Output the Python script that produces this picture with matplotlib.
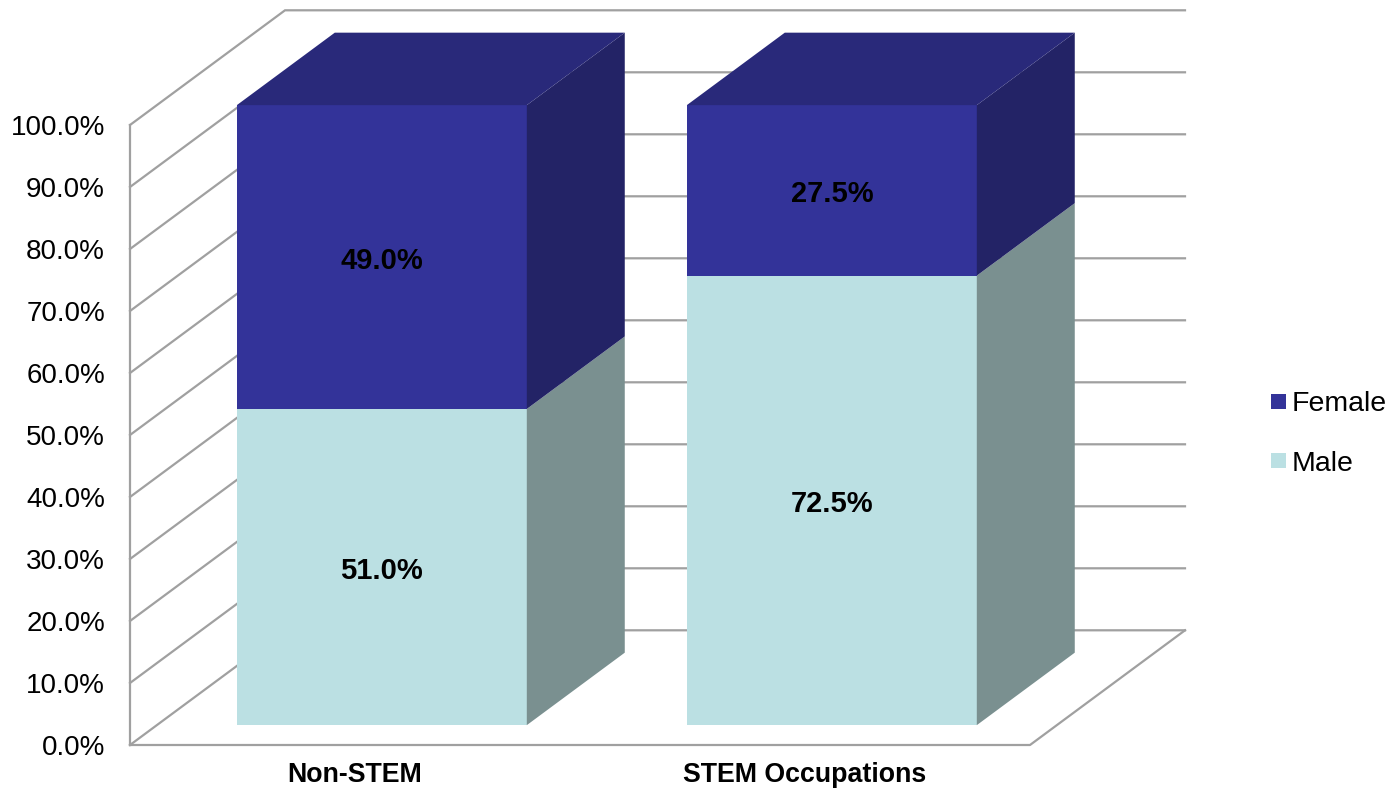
import matplotlib
matplotlib.use("Agg")
import matplotlib.pyplot as plt
from matplotlib.patches import Polygon, Patch

plt.rcParams['font.family'] = ['Liberation Sans', 'DejaVu Sans']

categories = ["Non-STEM", "STEM Occupations"]
male = [51.0, 72.5]
female = [49.0, 27.5]
series_names = ["Female", "Male"]
yticks = [0, 10, 20, 30, 40, 50, 60, 70, 80, 90, 100]

# colours
female_front = "#333399"
female_top = "#29297A"
female_side = "#232366"
male_front = "#BBE0E3"
male_side = "#7A9090"
grid_color = "#A0A0A0"

W, H = 1392, 793
fig = plt.figure(figsize=(W / 100, H / 100), dpi=100)
ax_left, ax_right, ax_bottom, ax_top = 130, 1185, 745, 8
ax = fig.add_axes([ax_left / W, (H - ax_bottom) / H,
                   (ax_right - ax_left) / W, (ax_bottom - ax_top) / H])

px_per_unit_x = 450.0
px_per_unit_y = 6.2
xmin = -0.5
xmax = xmin + (ax_right - ax_left) / px_per_unit_x
ymax = (ax_bottom - ax_top) / px_per_unit_y
ax.set_xlim(xmin, xmax)
ax.set_ylim(0, ymax)

# depth offsets (data units)
Dx = 155 / px_per_unit_x
Dy = 18.5
f0, f1 = 0.173, 0.805
hw = 0.3222

# gridlines / walls
for v in yticks:
    ax.plot([xmin, xmin + Dx, xmax], [v, v + Dy, v + Dy], color=grid_color,
            lw=1.6, zorder=1, clip_on=False, solid_joinstyle='miter')
ax.plot([xmin, xmin], [0, yticks[-1]], color=grid_color, lw=1.6, zorder=1, clip_on=False)
nfloor = len(categories)
ax.plot([xmin, xmin + nfloor, xmin + nfloor + Dx], [0, 0, Dy], color=grid_color,
        lw=1.6, zorder=1, clip_on=False)


def box(c, y0, y1, front, side, top=None):
    xl = c - hw + f0 * Dx
    xr = c + hw + f0 * Dx
    yo = f0 * Dy
    ddx = (f1 - f0) * Dx
    ddy = (f1 - f0) * Dy
    ax.add_patch(Polygon([(xl, y0 + yo), (xr, y0 + yo), (xr, y1 + yo), (xl, y1 + yo)],
                         closed=True, facecolor=front, edgecolor='none', zorder=3, clip_on=False))
    ax.add_patch(Polygon([(xr, y0 + yo), (xr + ddx, y0 + yo + ddy), (xr + ddx, y1 + yo + ddy),
                          (xr, y1 + yo)],
                         closed=True, facecolor=side, edgecolor='none', zorder=3, clip_on=False))
    if top is not None:
        ax.add_patch(Polygon([(xl, y1 + yo), (xr, y1 + yo), (xr + ddx, y1 + yo + ddy),
                              (xl + ddx, y1 + yo + ddy)],
                             closed=True, facecolor=top, edgecolor='none', zorder=3, clip_on=False))
    return (xl + xr) / 2, yo


for i, cat in enumerate(categories):
    m, f = male[i], female[i]
    cx, yo = box(i, 0, m, male_front, male_side)
    box(i, m, m + f, female_front, female_side, female_top)
    for val, ymid in ((m, yo + m / 2), (f, yo + m + f / 2)):
        ax.annotate(f"{val:.1f}%", xy=(cx, ymid), xytext=(0, -4), textcoords='offset pixels',
                    ha='center', va='center', fontsize=21, fontweight='bold',
                    color='black', zorder=5)

ax.set_yticks(yticks)
ax.set_yticklabels([f"{v:.1f}%" for v in yticks], fontsize=20)
ax.set_xticks(range(len(categories)))
ax.set_xticklabels(categories, fontsize=19.3, fontweight='bold')
ax.tick_params(axis='y', length=0, pad=18)
ax.tick_params(axis='x', length=0, pad=12)
for s in ax.spines.values():
    s.set_visible(False)
ax.patch.set_visible(False)

handles = [Patch(facecolor=female_front, edgecolor='none'),
           Patch(facecolor=male_front, edgecolor='none')]
fig.legend(handles, series_names, loc='center left',
           bbox_to_anchor=(1271 / W, 1 - 434 / H), frameon=False, fontsize=20.5,
           handlelength=0.52, handleheight=0.45, handletextpad=0.22, labelspacing=1.17,
           borderpad=0, borderaxespad=0)

fig.savefig("out.png", dpi=100)
